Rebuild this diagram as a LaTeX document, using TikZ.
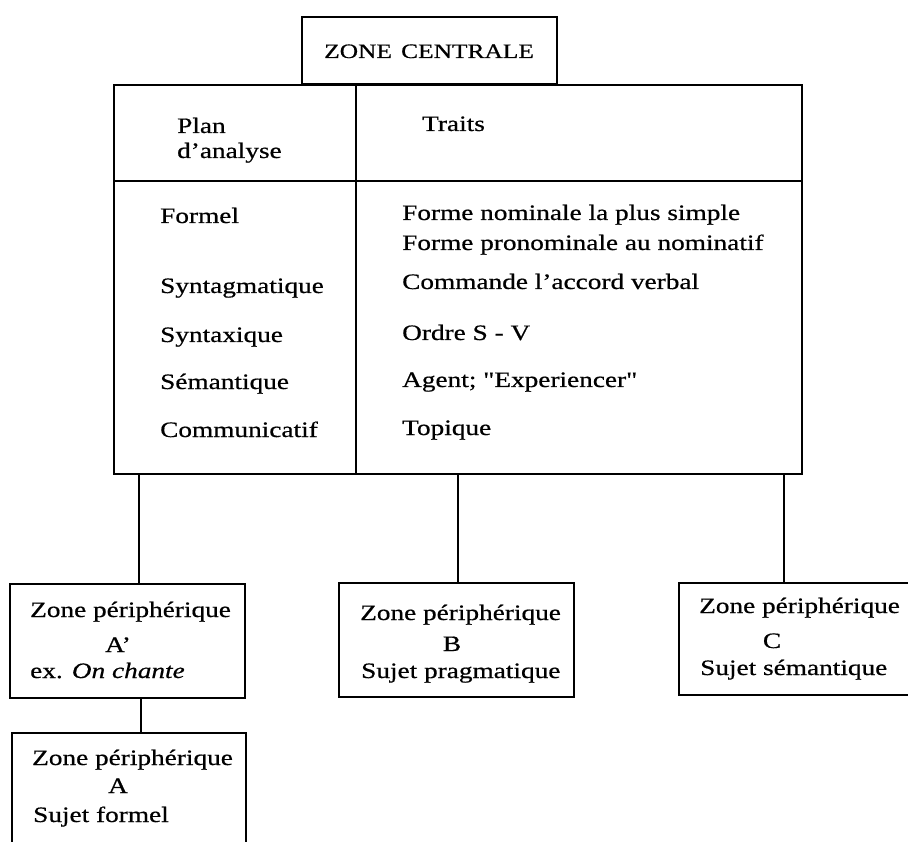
\documentclass[tikz,border=0pt]{standalone}
\usepackage{fontspec}
\setmainfont{Liberation Serif}[FakeStretch=1.24, FakeBold=0.6]
\newfontfamily\rawfont{Liberation Serif}[FakeStretch=1.24, FakeBold=0.6]
\begin{document}
\begin{tikzpicture}[x=1pt,y=-1pt,
  box/.style={draw, line width=1.4pt, rectangle, inner sep=0pt},
  txt/.style={inner sep=0pt, anchor=base west, font=\fontsize{22}{26}\selectfont},
  ctxt/.style={inner sep=0pt, anchor=base, font=\fontsize{22}{26}\selectfont},
  link/.style={line width=1.4pt}]
\useasboundingbox (0,0) rectangle (908,842);
\clip (0,0) rectangle (908,842);
\fill[white] (0,0) rectangle (908,842);
% boxes
\node[box, minimum width=255pt, minimum height=67pt] (cz) at (429.5,50.5) {};
\node[box, minimum width=688pt, minimum height=389pt] (tbl) at (458,279.5) {};
\node[box, minimum width=235pt, minimum height=114pt] (ap) at (127.5,641) {};
\node[box, minimum width=234pt, minimum height=140pt] (a) at (129,803) {};
\node[box, minimum width=235pt, minimum height=114pt] (b) at (456.5,640) {};
\node[box, minimum width=260pt, minimum height=112pt] (c) at (809,639) {};
% table inner lines
\coordinate (dv) at (356,0);
\coordinate (hd) at (0,181);
\draw[link] (tbl.north -| dv) -- (tbl.south -| dv);
\draw[link] (tbl.west |- hd) -- (tbl.east |- hd);
% connectors
\coordinate (cA) at (139,0);
\coordinate (cB) at (458,0);
\coordinate (cC) at (784,0);
\coordinate (cAA) at (141,0);
\draw[link] (tbl.south -| cA) -- (ap.north -| cA);
\draw[link] (tbl.south -| cB) -- (b.north -| cB);
\draw[link] (tbl.south -| cC) -- (c.north -| cC);
\draw[link] (ap.south -| cAA) -- (a.north -| cAA);
% texts
\node[txt, font=\fontsize{20.5}{24}\selectfont] (tcz) at (324,58) {ZONE\hspace{0.45em}CENTRALE};
\node[txt] (plan) at (177,133) {Plan};
\node[txt] (plan2) at (177,158) {d'analyse};
\node[txt] (traits) at (422,131) {Traits};
\node[txt] (l1) at (160,223) {Formel};
\node[txt] (l2) at (160,293) {Syntagmatique};
\node[txt] (l3) at (160,342) {Syntaxique};
\node[txt] (l4) at (160,389) {Sémantique};
\node[txt] (l5) at (160,437) {Communicatif};
\node[txt] (r1) at (402,220) {Forme nominale la plus simple};
\node[txt] (r2) at (402,250) {Forme pronominale au nominatif};
\node[txt] (r3) at (402,289) {Commande l'accord verbal};
\node[txt] (r4) at (402,340) {Ordre S - V};
\node[txt] (r5) at (402,387) {Agent; {\rawfont"}Experiencer{\rawfont"}};
\node[txt] (r6) at (402,435) {Topique};
% A'
\node[txt] (ap1) at (30,617) {Zone périphérique};
\node[ctxt] (ap2) at (118,652) {A'};
\node[txt] (ap3) at (30,678) {ex. \textit{On chante}};
% A
\node[txt] (a1) at (32,765) {Zone périphérique};
\node[ctxt] (a2) at (118,793) {A};
\node[txt] (a3) at (33,822) {Sujet formel};
% B
\node[txt] (b1) at (360,620) {Zone périphérique};
\node[ctxt] (b2) at (452,651) {B};
\node[txt] (b3) at (361,678) {Sujet pragmatique};
% C
\node[txt] (c1) at (699,613) {Zone périphérique};
\node[ctxt] (c2) at (772,648) {C};
\node[txt] (c3) at (700,675) {Sujet sémantique};
\end{tikzpicture}
\end{document}
